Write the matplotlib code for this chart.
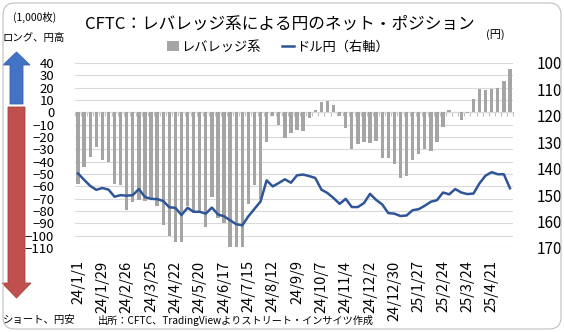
import matplotlib
matplotlib.use('Agg')
import matplotlib.pyplot as plt
import numpy as np
from matplotlib.patches import FancyArrow, FancyBboxPatch

plt.rcParams['font.family'] = ['Noto Sans CJK JP', 'DejaVu Sans']

# weekly, 24/1/1 .. 25/5/12 (label every 4 weeks)
tick_labels = ['24/1/1', '24/1/29', '24/2/26', '24/3/25', '24/4/22', '24/5/20',
               '24/6/17', '24/7/15', '24/8/12', '24/9/9', '24/10/7', '24/11/4',
               '24/12/2', '24/12/30', '25/1/27', '25/2/24', '25/3/24', '25/4/21']

# leveraged funds net yen position (1,000 contracts)
leveraged = [-58, -44, -36, -28, -39, -40, -58, -59, -79, -73,
             -71, -72, -70, -76, -91, -100, -105, -105, -76, -82,
             -81, -93, -69, -86, -90, -109.5, -109.5, -109.5, -74, -59,
             -70, -24, -3, -10, -21, -17, -14, -15, -5, 2,
             8, 9, 6, -3, -13, -30, -26, -24, -25, -23,
             -37, -37, -42, -53, -52, -39, -34, -30, -31, -24,
             -12, 2, 0.5, -6, -0.5, 11, 19, 18, 19, 19.5,
             25, 35]

# USD/JPY (right axis, inverted)
usdjpy = [141.8, 144.2, 146.5, 148.0, 147.3, 147.9, 150.6, 150.0, 150.2, 150.0,
          147.7, 150.7, 151.4, 151.5, 152.2, 154.6, 154.8, 157.5, 154.8, 156.3,
          156.3, 157.0, 154.7, 157.3, 158.0, 159.5, 161.0, 161.4, 158.0, 155.2,
          152.4, 144.4, 146.7, 145.4, 144.0, 145.3, 142.5, 142.2, 142.8, 143.5,
          147.9, 149.2, 151.1, 153.3, 151.4, 154.5, 154.5, 153.0, 149.5, 151.8,
          153.5, 156.8, 157.0, 157.9, 157.7, 155.7, 155.3, 154.0, 152.5, 151.9,
          149.0, 149.7, 147.7, 149.0, 149.6, 149.4, 145.5, 142.6, 141.3, 142.1,
          142.1, 147.4]

W, H = 564, 332
fig = plt.figure(figsize=(W / 100, H / 100), dpi=100)
ax = fig.add_axes([75 / W, 1 - 248 / H, (513 - 75) / W, (248 - 63) / H])

x = np.arange(len(leveraged))
ax.bar(x, leveraged, width=0.55, color='#A5A5A5', label='レバレッジ系', zorder=2)
ax.set_xlim(-0.5, len(x) - 0.5)
ax.set_ylim(-110, 40)
ax.set_yticks(np.arange(-110, 41, 10))
ax.grid(axis='y', color='#D9D9D9', lw=0.8)
ax.set_axisbelow(True)
ax.set_xticks(x[::4])
ax.set_xticklabels(tick_labels, rotation=90, fontsize=10.5)
ax.tick_params(axis='x', length=0, pad=9)
ax.tick_params(axis='y', length=0, pad=15, labelsize=9.5)
for s in ax.spines.values():
    s.set_visible(False)

# category axis line at zero with small tick marks
ylo, yhi = ax.get_ylim()
zero_ax = ax.secondary_xaxis((0 - ylo) / (yhi - ylo))
zero_ax.set_xticks(np.arange(-0.5, len(x), 1))
zero_ax.xaxis.set_ticks_position('bottom')
zero_ax.tick_params(length=3, width=0.8, color='#BFBFBF', labelbottom=False, labeltop=False)
for s in zero_ax.spines.values():
    s.set_color('#BFBFBF')
    s.set_linewidth(0.8)

ax2 = ax.twinx()
ax2.plot(x, usdjpy, color='#2F5597', lw=1.8, label='ドル円（右軸）')
ax2.set_ylim(170, 100)
ax2.set_yticks(np.arange(100, 171, 10))
ax2.tick_params(axis='y', length=0, pad=17, labelsize=11)
for s in ax2.spines.values():
    s.set_visible(False)

h1, l1 = ax.get_legend_handles_labels()
h2, l2 = ax2.get_legend_handles_labels()
fig.legend(h1 + h2, l1 + l2, loc='center', bbox_to_anchor=(278 / W, 1 - 47 / H),
           ncol=2, frameon=False, fontsize=9.5, handlelength=0.9,
           handletextpad=0.2, columnspacing=1.6)

fig.text(280 / W, 1 - 24 / H, 'CFTC：レバレッジ系による円のネット・ポジション',
         ha='center', va='center', fontsize=12)
fig.text(35 / W, 1 - 17 / H, '(1,000枚)', ha='center', va='center', fontsize=7.5)
fig.text(34 / W, 1 - 38 / H, 'ロング、円高', ha='center', va='center', fontsize=7.5)
fig.text(495 / W, 1 - 35 / H, '(円)', ha='center', va='center', fontsize=8)
fig.text(3 / W, 1 - 320 / H, 'ショート、円安', ha='left', va='center', fontsize=7.5)
fig.text(98 / W, 1 - 320 / H, '出所：CFTC、TradingViewよりストリート・インサイツ作成',
         ha='left', va='center', fontsize=7.3)

# long / short arrows (inch coordinates)
px = fig.dpi_scale_trans
up = FancyArrow(0.165, (H - 104) / 100, 0, (104 - 52) / 100, width=0.13,
                head_width=0.27, head_length=0.13, length_includes_head=True,
                transform=px, fc='#4472C4', ec='#3A62A8', lw=0.6)
down = FancyArrow(0.165, (H - 107) / 100, 0, -(298 - 107) / 100, width=0.17,
                  head_width=0.29, head_length=0.15, length_includes_head=True,
                  transform=px, fc='#C0504D', ec='#A8423F', lw=0.6)
fig.add_artist(up)
fig.add_artist(down)

border = FancyBboxPatch((0.03, 0.03), W / 100 - 0.06, H / 100 - 0.06,
                        boxstyle='round,pad=0,rounding_size=0.12', transform=px,
                        fill=False, ec='#BFBFBF', lw=0.8)
fig.add_artist(border)

fig.savefig('out.png', dpi=100)
